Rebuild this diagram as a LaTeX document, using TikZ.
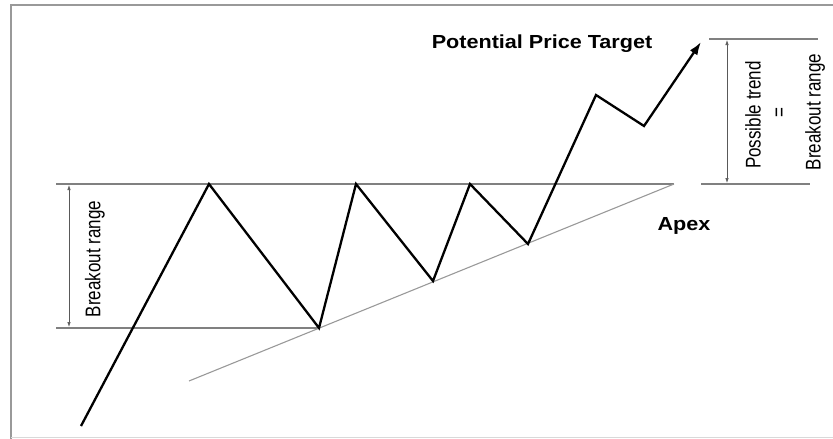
\documentclass[tikz,border=0pt]{standalone}
\usepackage{fontspec}
\setmainfont{Liberation Sans}
\usetikzlibrary{arrows.meta, positioning, calc}

\begin{document}
\begin{tikzpicture}[x=1pt, y=-1pt,
        level/.style={draw=black!50, line width=1.4pt},
        support/.style={draw=black!40, line width=1.1pt},
        price/.style={draw=black, line width=2.3pt, line join=miter},
        dimline/.style={draw=black!65, line width=0.7pt,
            {Latex[length=5pt,width=3.5pt]}-{Latex[length=5pt,width=3.5pt]}},
        sidelabel/.style={font=\fontsize{17}{17}\selectfont, rotate=90, yscale=1.25, inner sep=0pt},
        boldlabel/.style={font=\fontsize{18}{18}\selectfont\bfseries, xscale=1.2, yscale=1.05, inner sep=0pt}]
        \useasboundingbox (0, 0) rectangle (833, 439);

        % Frame
        \draw[black!40, line width=2.5pt] (11, 439) -- (11, 5) -- (833, 5);
        \draw[black!15, line width=0.8pt] (11, 437) -- (833, 437);

        % Price swings of the triangle
        \coordinate (p0) at (81, 426);
        \coordinate (p1) at (209, 184);
        \coordinate (p2) at (319, 328);
        \coordinate (p3) at (356, 184);
        \coordinate (p4) at (433, 281);
        \coordinate (p5) at (470, 184);
        \coordinate (p6) at (528, 244);
        \coordinate (p7) at (596, 95);
        \coordinate (p8) at (644, 126);
        \coordinate (p9) at (701, 42);

        % Resistance, low and support lines
        \coordinate (resL) at (56, 184);
        \coordinate (resR) at (674, 184);
        \coordinate (lowL) at (56, 328);
        \coordinate (supL) at (189, 381);
        \draw[level] (resL) -- (resR);
        \draw[level] (lowL) -- (p2);
        \draw[support] (supL) -- (resR);

        % Target lines on the right
        \coordinate (tgtL) at (709, 39);
        \coordinate (tgtR) at (818, 39);
        \coordinate (baseL) at (701, 184);
        \coordinate (baseR) at (810, 184);
        \draw[level] (tgtL) -- (tgtR);
        \draw[level] (baseL) -- (baseR);

        \draw[price, -{Latex[length=13pt,width=9pt]}]
            (p0) -- (p1) -- (p2) -- (p3) -- (p4) -- (p5) -- (p6) -- (p7) -- (p8) -- (p9);

        % Measured ranges
        \coordinate (rngT) at (69, 185);
        \coordinate (rngB) at (69, 327);
        \draw[dimline] (rngT) -- (rngB);
        \coordinate (trdT) at (727, 40);
        \coordinate (trdB) at (727, 183);
        \draw[dimline] (trdT) -- (trdB);

        \node[sidelabel] (rangeL) at (95, 259) {Breakout range};
        \node[sidelabel] (trend) at (753, 115) {Possible trend};
        \node[sidelabel] (equals) at (781, 113) {=};
        \node[sidelabel] (rangeR) at (815, 112) {Breakout range};

        \node[boldlabel, anchor=base] (target) at (542, 48) {Potential Price Target};
        \node[boldlabel, anchor=base] (apex) at (684, 230) {Apex};
    \end{tikzpicture}
\end{document}
